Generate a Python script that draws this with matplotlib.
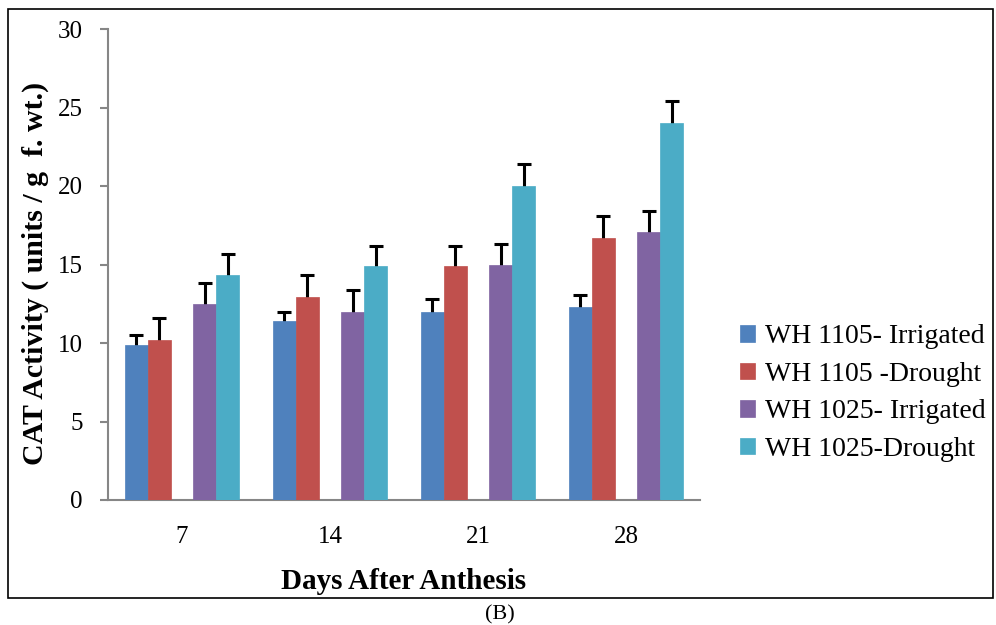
import numpy as np
import matplotlib
matplotlib.use("Agg")
import matplotlib.pyplot as plt
from matplotlib.patches import Rectangle

plt.rcParams['font.family'] = ['Liberation Serif', 'DejaVu Serif']

days = ["7", "14", "21", "28"]
series = ["WH 1105- Irrigated", "WH 1105 -Drought", "WH 1025- Irrigated", "WH 1025-Drought"]
colors = ["#4F81BD", "#C0504D", "#8064A2", "#4BACC6"]

wh1105_irr = [9.9, 11.4, 12.0, 12.3]
wh1105_dro = [10.2, 12.9, 14.9, 16.7]
wh1025_irr = [12.5, 12.0, 15.0, 17.1]
wh1025_dro = [14.3, 14.9, 20.0, 24.0]
values = [wh1105_irr, wh1105_dro, wh1025_irr, wh1025_dro]

err1105_irr = [0.6, 0.6, 0.8, 0.75]
err1105_dro = [1.4, 1.4, 1.3, 1.4]
err1025_irr = [1.3, 1.4, 1.3, 1.3]
err1025_dro = [1.4, 1.3, 1.4, 1.4]
errors = [err1105_irr, err1105_dro, err1025_irr, err1025_dro]

fig = plt.figure(figsize=(9.96, 6.25), dpi=100)
ax = fig.add_axes([0.1084, 0.2, 0.5944, 0.7536])

x = np.arange(len(days))
w = 0.154
# excel left an empty slot in the middle of each group
offsets = [-2 * w, -w, w, 2 * w]
for vals, errs, off, c, name in zip(values, errors, offsets, colors, series):
    ax.bar(x + off, vals, w, color=c, label=name, edgecolor=c, linewidth=0.5, zorder=3)
    # symmetric bars drawn under the bars, so only the upper half shows
    ax.errorbar(x + off, vals, yerr=errs, fmt="none",
                ecolor="black", elinewidth=2.2, capsize=5, capthick=2.2, zorder=2)

ax.set_xlim(-0.5, 3.5)
ax.set_ylim(0, 30)
ax.set_yticks(range(0, 31, 5))
ax.set_xticks(x)
ax.set_xticklabels(days)
ax.tick_params(axis="y", direction="out", length=6, width=1.5, color="#868686", labelsize=18, pad=12)
ax.tick_params(axis="x", length=0, labelsize=18, pad=19)
for s in ["top", "right"]:
    ax.spines[s].set_visible(False)
for s in ["left", "bottom"]:
    ax.spines[s].set_color("#868686")
    ax.spines[s].set_linewidth(1.5)

ax.set_xlabel("Days After Anthesis", fontsize=21, fontweight="bold", labelpad=14)
ax.set_ylabel("CAT Activity ( units / g  f. wt.)", fontsize=21.5, fontweight="bold")
ax.yaxis.set_label_coords(-0.1, 0.48)

fig.legend(loc="center left", bbox_to_anchor=(0.718, 0.371), frameon=False,
           fontsize=20, handlelength=0.55, handleheight=0.55, handletextpad=0.35,
           labelspacing=0.45)

fig.patches.append(Rectangle((8 / 996, 27 / 625), 985 / 996, 589 / 625,
                             transform=fig.transFigure, fill=False,
                             edgecolor="black", linewidth=1.2))
fig.text(0.502, 0.017, "(B)", ha="center", va="center", fontsize=16)

fig.savefig("out.png", dpi=100)
